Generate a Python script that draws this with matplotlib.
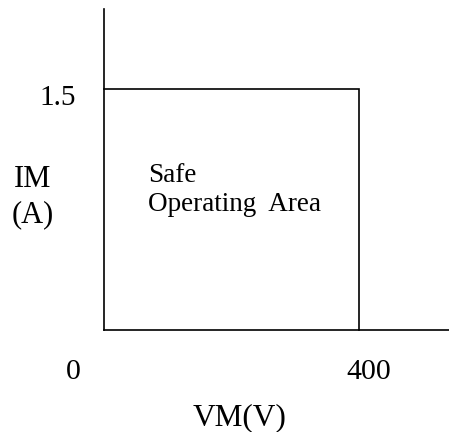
import matplotlib
matplotlib.use("Agg")
import matplotlib.pyplot as plt

# Data
voltage = [0, 400, 400]          # V
current = [1.5, 1.5, 0]          # A
x_tick_labels = ["0", "400"]
x_tick_values = [0, 400]
y_tick_label = "1.5"
y_tick_value = 1.5

plt.rcParams['font.family'] = ['Liberation Serif', 'DejaVu Serif']

W, H = 449, 432
fig = plt.figure(figsize=(W / 100, H / 100), dpi=100)
x0, y0 = 103.5, 330
ax = fig.add_axes([x0 / W, (H - y0) / H, (W - x0) / W, (y0 - 9) / H])
ax.set_xlim(0, 540)
ax.set_ylim(0, 2.0)
for s in ['top', 'right']:
    ax.spines[s].set_visible(False)
for s in ['left', 'bottom']:
    ax.spines[s].set_linewidth(1.2)
ax.set_xticks([])
ax.set_yticks([])
ax.patch.set_alpha(0)

ax.plot(voltage, current, color='black', lw=1.2, solid_joinstyle='miter', clip_on=False)

kw = dict(clip_on=False, color='black')
ax.text(-71.9, y_tick_value - 0.098, y_tick_label, fontsize=21, ha='center', va='baseline', **kw)
ax.text(-110.2, 0.891, "IM", fontsize=22, ha='center', va='baseline', **kw)
ax.text(-110.2, 0.673, "(A)", fontsize=22, ha='center', va='baseline', **kw)
ax.text(70, 0.922, "Safe", fontsize=19.5, ha='left', va='baseline', **kw)
ax.text(70, 0.741, "Operating  Area", fontsize=19.5, ha='left', va='baseline', **kw)
ax.text(x_tick_values[0] - 47.7, -0.305, x_tick_labels[0], fontsize=21.5, ha='center', va='baseline', **kw)
ax.text(x_tick_values[1] + 14, -0.305, x_tick_labels[1], fontsize=21.5, ha='center', va='baseline', **kw)
ax.text(213.3, -0.592, "VM(V)", fontsize=22.5, ha='center', va='baseline', **kw)

fig.savefig("out.png", dpi=100)
